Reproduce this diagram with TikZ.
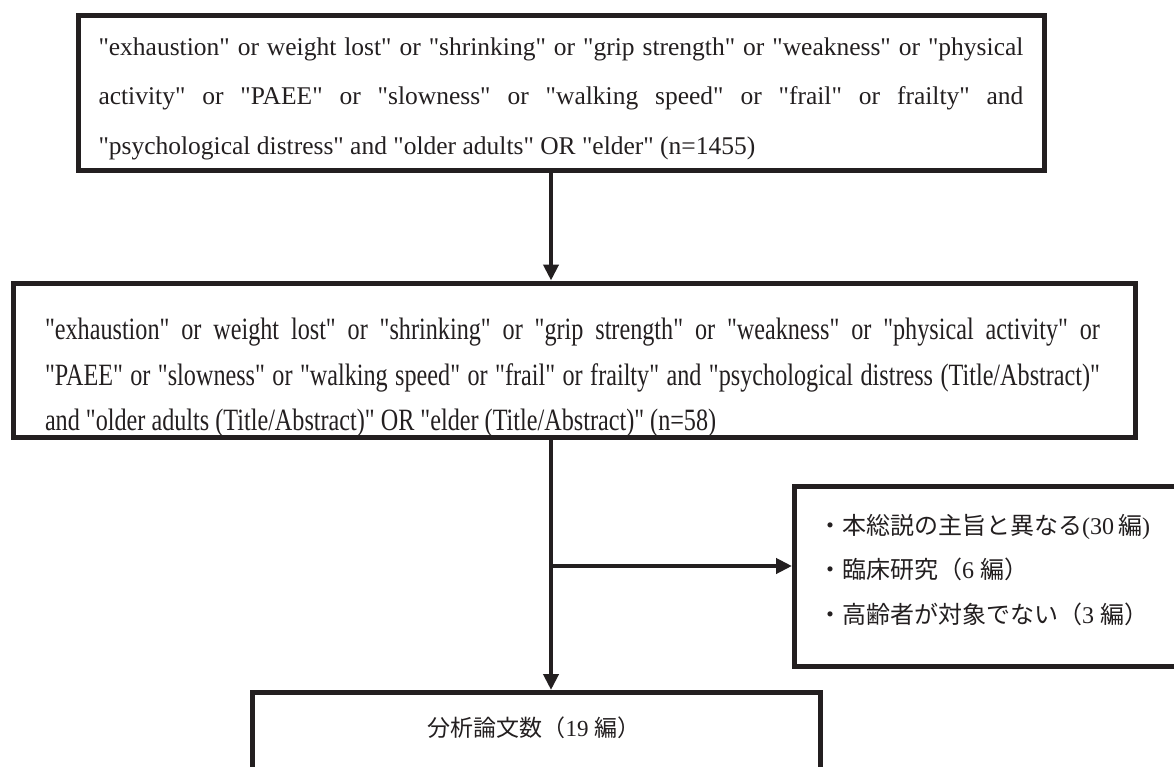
\documentclass[tikz,border=0pt]{standalone}
\usepackage{fontspec}
\setmainfont{Liberation Serif}
\newfontfamily\cjk{Noto Sans CJK JP}
\newfontfamily\plainserif{Liberation Serif}
\newfontfamily\narrowserif[FakeStretch=0.78]{Liberation Serif}
\usetikzlibrary{arrows.meta}
\definecolor{ink}{RGB}{35,31,32}
\tikzset{
  boxframe/.style={draw=ink, line width=5pt, inner sep=0pt},
  txt/.style={text=ink, inner sep=0pt},
  conn/.style={draw=ink, line width=4pt, -{Triangle[length=16pt,width=15pt]}},
}
\begin{document}
\begin{tikzpicture}[x=1pt,y=-1pt]
\useasboundingbox[fill=white] (0,0) rectangle (1174,767);
\clip (0,0) rectangle (1174,767);
% boxes
\node[boxframe, minimum width=966pt, minimum height=155pt] (b1) at (561,93.5) {};
\node[boxframe, minimum width=1122pt, minimum height=154pt] (b2) at (574,360) {};
\node[boxframe, anchor=north west, minimum width=430pt, minimum height=180pt] (b3) at (792,484) {};
\node[boxframe, anchor=north west, minimum width=568pt, minimum height=120pt] (b4) at (250,690) {};
% texts
\node[txt, text width=925pt, align=justify, font=\plainserif\fontsize{25.5}{49.5}\selectfont] (t1) at (561,98.5)
{\tolerance=10000 \hyphenpenalty=10000 "exhaustion" or weight lost" or "shrinking" or "grip strength" or "weakness" or "physical\linebreak
activity" or "PAEE" or "slowness" or "walking speed" or "frail" or frailty" and\linebreak
"psychological distress" and "older adults" OR "elder" (n=1455)};
\node[txt, text width=1055pt, align=justify, font=\narrowserif\fontsize{31}{45.5}\selectfont] (t2) at (572.5,378)
{\tolerance=10000 \hyphenpenalty=10000 \exhyphenpenalty=10000 "exhaustion" or weight lost" or "shrinking" or "grip strength" or "weakness" or "physical activity" or\linebreak
"PAEE" or "slowness" or "walking speed" or "frail" or frailty" and "psychological distress (Title/Abstract)"\linebreak
and "older adults (Title/Abstract)" OR "elder (Title/Abstract)" (n=58)};
\node[txt, anchor=west, align=left, font=\plainserif\fontsize{24}{44.5}\selectfont] (t3) at (818,570)
{{\cjk ・本総説の主旨と異なる}(30\,{\cjk 編})\\
 {\cjk ・臨床研究（}6 {\cjk 編）}\\
 {\cjk ・高齢者が対象でない（}3 {\cjk 編）}};
\node[txt, font=\plainserif\fontsize{23}{28}\selectfont] (t4) at (534,728) {{\cjk 分析論文数（}19 {\cjk 編）}};
% connectors
\coordinate (ax) at (551,0);
\coordinate (br) at (551,566);
\draw[conn] (b1.south -| ax) -- (b2.north -| ax);
\draw[conn] (b2.south -| ax) -- (b4.north -| ax);
\draw[conn] (br) -- (b3.west |- br);
\end{tikzpicture}
\end{document}
